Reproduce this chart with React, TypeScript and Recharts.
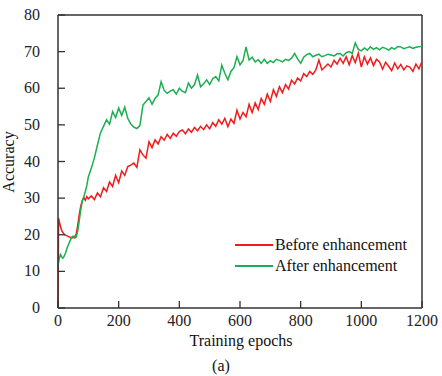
import {
  LineChart, Line, XAxis, YAxis, ReferenceLine, Legend,
} from 'recharts'

// epochs sampled finer at the start where the curves jump
const epochs = [
  0, 2, 4, 8, 12, 16, 20, 25, 30, 35, 40, 45, 50, 55, 60, 65, 70, 75, 80, 85, 90, 95,
  100, 110, 120, 130, 140, 150, 160, 170, 180, 190,
  200, 210, 220, 230, 240, 250, 260, 270, 280, 290,
  300, 310, 320, 330, 340, 350, 360, 370, 380, 390,
  400, 410, 420, 430, 440, 450, 460, 470, 480, 490,
  500, 510, 520, 530, 540, 550, 560, 570, 580, 590,
  600, 610, 620, 630, 640, 650, 660, 670, 680, 690,
  700, 710, 720, 730, 740, 750, 760, 770, 780, 790,
  800, 810, 820, 830, 840, 850, 860, 870, 880, 890,
  900, 910, 920, 930, 940, 950, 960, 970, 980, 990,
  1000, 1010, 1020, 1030, 1040, 1050, 1060, 1070, 1080, 1090,
  1100, 1110, 1120, 1130, 1140, 1150, 1160, 1170, 1180, 1190,
  1200,
]

const beforeAcc = [
  0, 24.5, 23.8, 22.3, 21.2, 20.6, 20.2, 19.9, 19.7, 19.5, 19.3, 19.2, 19.2, 19.4, 20.2, 22.5, 25.5, 27.8, 29.3, 30.2, 29.4, 30.4,
  29.8, 30.6, 29.6, 31.4, 30.4, 32.8, 31.8, 34.4, 33.2, 36.2,
  34.2, 37.4, 36.2, 38.6, 39.0, 39.6, 38.4, 43.2, 41.8, 40.9,
  45.4, 43.8, 45.9, 44.8, 46.8, 45.8, 47.4, 46.3, 47.7, 46.9,
  48.2, 48.6, 47.6, 48.9, 48.0, 49.3, 48.4, 49.6, 48.7, 50.0,
  48.9, 50.6, 49.6, 51.4, 50.2, 51.8, 49.5, 51.6, 50.4, 54.0,
  51.6, 53.4, 52.2, 55.6, 53.4, 56.0, 54.2, 57.2, 55.6, 58.4,
  56.4, 59.6, 57.8, 60.4, 58.8, 61.0, 59.8, 62.2, 61.2, 62.8,
  62.0, 64.0, 63.2, 64.6, 63.8, 65.0, 67.7, 65.0, 65.8, 66.6,
  65.8, 67.6, 66.6, 68.2, 66.8, 68.6, 66.4, 68.9, 67.0, 69.6,
  65.8, 68.6, 66.6, 68.3, 66.2, 67.9, 67.2, 65.2, 67.1, 66.0,
  64.8, 66.9, 65.3, 66.5, 65.0, 66.1, 65.8, 64.6, 66.6, 65.3,
  67.3,
]

const afterAcc = [
  11.5, 12.6, 13.4, 14.6, 14.0, 13.6, 14.1, 15.0, 16.4, 17.4, 18.4, 19.3, 19.6, 19.1, 19.4, 21.0, 23.8, 26.8, 29.2, 30.4, 31.8, 33.4,
  35.8, 38.2, 41.0, 44.5, 47.8, 49.6, 51.4, 50.2, 53.6, 52.0,
  54.6, 52.6, 54.8, 51.8, 50.2, 49.4, 49.0, 49.8, 55.4, 56.4,
  57.4, 55.6, 57.2, 58.2, 61.8, 59.4, 58.6, 59.2, 59.6, 58.4,
  60.0, 59.2, 58.8, 61.4, 60.0, 61.0, 63.6, 60.4, 61.2, 62.3,
  61.0, 62.6, 63.2, 62.0, 66.3, 64.1, 62.3, 64.6, 65.6, 68.6,
  66.4, 67.6, 71.3, 67.7, 68.5, 67.2, 67.8, 66.8, 67.9, 66.8,
  67.5, 67.0, 67.9, 67.6, 67.2, 67.9, 67.6, 68.2, 69.5, 68.0,
  66.8, 68.5, 69.2, 69.5, 68.6, 69.0, 69.3, 68.6, 68.9, 69.3,
  69.1, 68.8, 69.4, 69.5, 68.8, 69.7, 70.0, 69.5, 72.4, 70.6,
  70.2, 71.0, 70.4, 71.3, 70.6, 71.1, 70.5, 71.2, 70.9, 70.4,
  71.1, 70.7, 71.4, 71.3, 70.8, 71.1, 71.3, 70.9, 71.2, 71.3,
  71.5,
]

const xTicks = [0, 200, 400, 600, 800, 1000, 1200]
const yTicks = [0, 10, 20, 30, 40, 50, 60, 70, 80]

const seriesNames = ['Before enhancement', 'After enhancement']
const RED = '#f01c1c'
const GREEN = '#1aaf50'
const AXIS = '#333'
const FONT = '"Liberation Serif", "Times New Roman", serif'

const data = epochs.map((epoch, i) => ({
  epoch,
  before: beforeAcc[i],
  after: afterAcc[i],
}))

// ticks point into the plot, labels sit outside
function XTick({ x, y, payload }: any) {
  return (
    <g>
      <line x1={x} x2={x} y1={y} y2={y - 7} stroke={AXIS} strokeWidth={1.3} />
      <text x={x} y={y + 18} textAnchor="middle" fontSize={16} fill="#222" fontFamily={FONT}>
        {payload.value}
      </text>
    </g>
  )
}

function YTick({ x, y, payload }: any) {
  return (
    <g>
      <line x1={x} x2={x + 7} y1={y} y2={y} stroke={AXIS} strokeWidth={1.3} />
      <text x={x - 18} y={y + 5} textAnchor="end" fontSize={16} fill="#222" fontFamily={FONT}>
        {payload.value}
      </text>
    </g>
  )
}

function LegendBox() {
  const colors = [RED, GREEN]
  return (
    <div style={{ fontFamily: FONT, fontSize: 16, color: '#111' }}>
      {seriesNames.map((name, i) => (
        <div key={name} style={{ display: 'flex', alignItems: 'center', height: 21 }}>
          <div style={{ width: 38, height: 0, borderTop: `2px solid ${colors[i]}`, marginRight: 2 }} />
          <span style={{ lineHeight: '21px', whiteSpace: 'nowrap' }}>{name}</span>
        </div>
      ))}
    </div>
  )
}

export default function App() {
  return (
    <div style={{ position: 'absolute', left: 0, top: 0, width: 442, height: 376, background: '#fff' }}>
      <LineChart
        width={442}
        height={376}
        data={data}
        margin={{ top: 15, right: 20, left: 0, bottom: 0 }}
      >
        <XAxis
          dataKey="epoch"
          type="number"
          domain={[0, 1200]}
          ticks={xTicks}
          interval={0}
          height={68}
          tickSize={0}
          tickMargin={0}
          tickLine={false}
          axisLine={{ stroke: AXIS, strokeWidth: 1.5 }}
          tick={<XTick />}
          label={() => (
            <g fontFamily={FONT} fontSize={16} fill="#111">
              <text x={241} y={346} textAnchor="middle">Training epochs</text>
              <text x={221} y={371} textAnchor="middle">(a)</text>
            </g>
          )}
        />
        <YAxis
          type="number"
          domain={[0, 80]}
          ticks={yTicks}
          interval={0}
          width={58}
          tickSize={0}
          tickMargin={0}
          tickLine={false}
          axisLine={{ stroke: AXIS, strokeWidth: 1.5 }}
          tick={<YTick />}
          label={() => (
            <text
              x={14}
              y={162}
              transform="rotate(-90 14 162)"
              textAnchor="middle"
              fontFamily={FONT}
              fontSize={16}
              fill="#111"
            >
              Accuracy
            </text>
          )}
        />
        <ReferenceLine y={80} stroke={AXIS} strokeWidth={1.5} />
        <ReferenceLine x={1200} stroke={AXIS} strokeWidth={1.5} />
        <Legend
          layout="horizontal"
          verticalAlign="middle"
          align="center"
          wrapperStyle={{ left: 235, top: 234, width: 190 }}
          content={() => <LegendBox />}
        />
        <Line
          type="linear"
          dataKey="before"
          name={seriesNames[0]}
          stroke={RED}
          strokeWidth={1.5}
          dot={false}
          isAnimationActive={false}
        />
        <Line
          type="linear"
          dataKey="after"
          name={seriesNames[1]}
          stroke={GREEN}
          strokeWidth={1.5}
          dot={false}
          isAnimationActive={false}
        />
      </LineChart>
    </div>
  )
}
